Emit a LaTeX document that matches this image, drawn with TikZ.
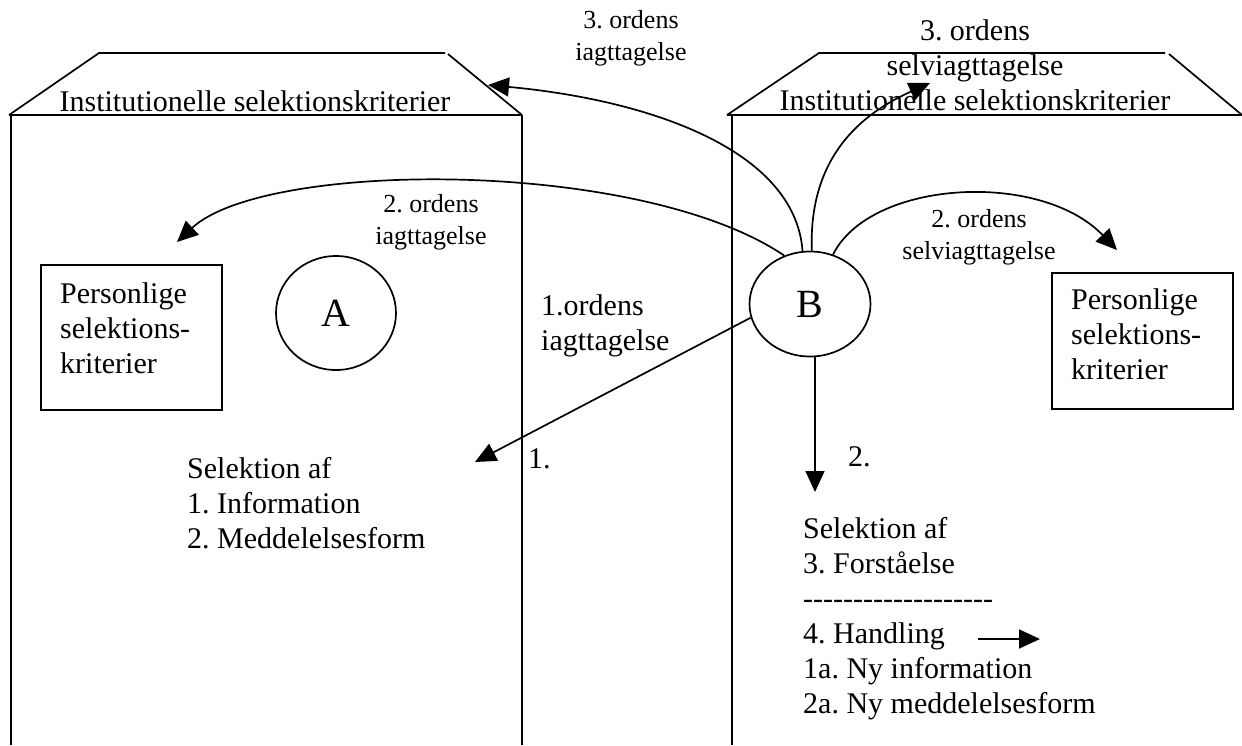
\documentclass[tikz,border=0pt]{standalone}
\usepackage{fontspec}
\setmainfont{Liberation Serif}
\usetikzlibrary{arrows.meta,shapes.geometric}
\newcommand{\ltab}[1]{\begin{tabular}[t]{@{}l@{}}#1\end{tabular}}
\newcommand{\ctab}[1]{\begin{tabular}[t]{@{}c@{}}#1\end{tabular}}
\frenchspacing
\tikzset{
  ln/.style={line width=1.7pt},
  arr/.style={line width=1.7pt,-{Triangle[length=21pt,width=19pt]}},
  txt/.style={inner sep=0pt,font=\fontsize{30}{35}\selectfont},
  small/.style={inner sep=0pt,font=\fontsize{26}{32}\selectfont},
  circ/.style={draw,ellipse,line width=1.7pt,inner sep=0pt,font=\fontsize{40}{44}\selectfont},
  pbox/.style={draw,line width=1.7pt,inner sep=0pt,anchor=north west}
}
\begin{document}
\begin{tikzpicture}[x=1pt,y=-1pt]
\useasboundingbox (0,0) rectangle (1242,745);
% left building
\draw[ln] (9,115) -- (99,53) -- (445,53);
\draw[ln] (448,54) -- (522,115);
\draw[ln] (9,115) -- (522,115);
\draw[ln] (11,115) -- (11,745);
\draw[ln] (522,115) -- (522,745);
% right building
\draw[ln] (727,115) -- (819,53) -- (1165,53);
\draw[ln] (1169,54) -- (1242,115);
\draw[ln] (727,115) -- (1242,115);
\draw[ln] (732,115) -- (732,745);
% trapezoid texts
\node[txt,anchor=base] (inst1) at (255,111) {Institutionelle selektionskriterier};
\node[txt,anchor=base] (inst2) at (975,40) {\ctab{3. ordens\\selviagttagelse\\Institutionelle selektionskriterier}};
% ellipses
\node[circ,minimum width=120,minimum height=114] (A) at (336,313) {A};
\node[circ,minimum width=121,minimum height=105] (B) at (810,304) {B};
% personal boxes
\node[pbox,minimum width=181,minimum height=145] (p1) at (40,264) {};
\node[txt,anchor=base west] (p1t) at (60,303) {\ltab{Personlige\\selektions-\\kriterier}};
\node[pbox,minimum width=181,minimum height=136] (p2) at (1051,272) {};
\node[txt,anchor=base west] (p2t) at (1071,309) {\ltab{Personlige\\selektions-\\kriterier}};
% labels
\node[small,anchor=base] (l3a) at (631,28) {\ctab{3. ordens\\iagttagelse}};
\node[small,anchor=base] (l2a) at (431,212) {\ctab{2. ordens\\iagttagelse}};
\node[small,anchor=base] (l2b) at (979,227) {\ctab{2. ordens\\selviagttagelse}};
\node[txt,anchor=base west] (l1) at (541,315) {\ltab{1.ordens\\iagttagelse}};
\node[txt,anchor=base west] (n1) at (528,468) {1.};
\node[txt,anchor=base west] (n2) at (848,466) {2.};
% selection texts
\node[txt,anchor=base west] (selA) at (187,478) {\ltab{Selektion af\\1. Information\\2. Meddelelsesform}};
\node[txt,anchor=base west] (selB) at (803,538) {\ltab{Selektion af\\3. Forståelse\\-{}-{}-{}-{}-{}-{}-{}-{}-{}-{}-{}-{}-{}-{}-{}-{}-{}-{}-\\4. Handling\\1a. Ny information\\2a. Ny meddelelsesform}};
% arrow end coordinates
\coordinate (t1) at (475,462);
\coordinate (t2) at (815,492);
\coordinate (t2a) at (177,242);
\coordinate (t3a) at (488,85);
\coordinate (t3b) at (930,83);
\coordinate (t2b) at (1117,250);
\coordinate (hs) at (978,639);
\coordinate (he) at (1040,639);
% arrows
\draw[arr] (B.193) -- (t1);
\draw[arr] (t2 |- B.south) -- (t2);
\draw[arr] (B.118) .. controls (640,158) and (265,160) .. (t2a);
\draw[arr] (B.98) .. controls (795,150) and (650,100) .. (t3a);
\draw[arr] (B.88) .. controls (808,150) and (870,110) .. (t3b);
\draw[arr] (B.65) .. controls (870,180) and (1040,170) .. (t2b);
\draw[arr] (hs) -- (he);
\end{tikzpicture}
\end{document}
